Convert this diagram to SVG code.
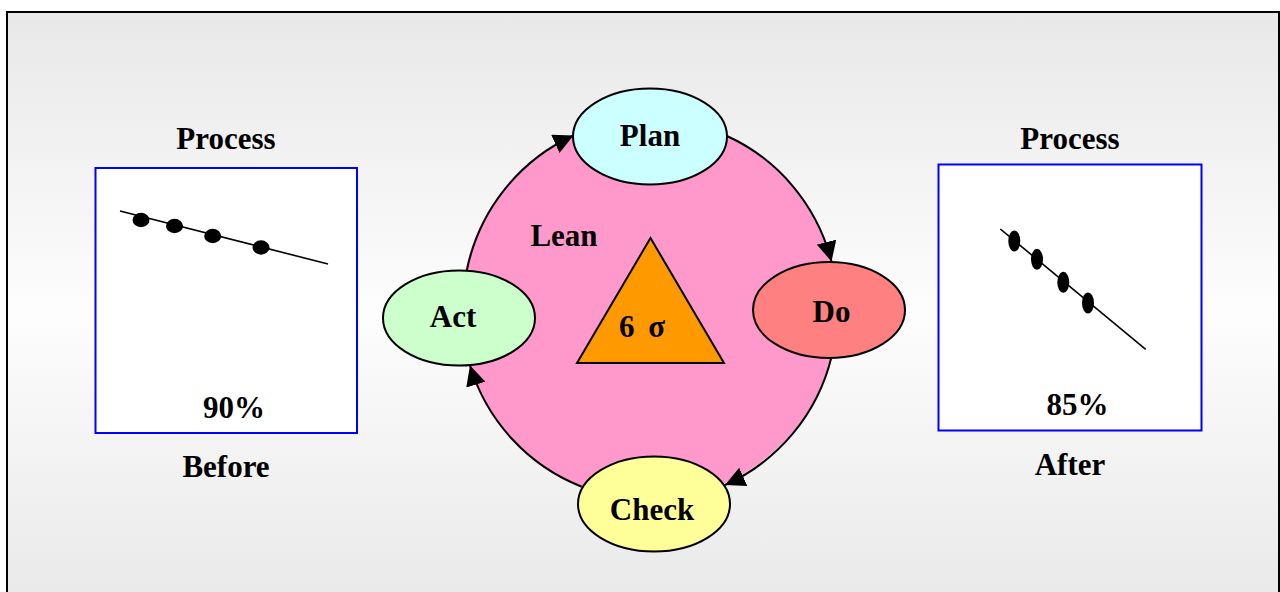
<svg xmlns="http://www.w3.org/2000/svg" width="1280" height="592" viewBox="0 0 1280 592">
<style>
.t{font-family:"Liberation Serif","Times New Roman",serif;font-weight:bold;font-size:31px;fill:#000;text-anchor:middle}
.node{stroke:#000;stroke-width:2}
.box{fill:#fff;stroke:#0000ff;stroke-width:2}
.conn{fill:none;stroke:#000;stroke-width:2}
.plot{stroke:#000;stroke-width:1.6;fill:none}
.dot{fill:#000}
</style>
<defs>
<linearGradient id="bg" x1="0" y1="0" x2="0" y2="1">
<stop offset="0" stop-color="#e8e8e8"/>
<stop offset="0.5" stop-color="#fdfdfd"/>
<stop offset="1" stop-color="#e8e8e8"/>
</linearGradient>
<marker id="arr" markerUnits="userSpaceOnUse" markerWidth="20" markerHeight="20" viewBox="0 0 20 20" refX="20" refY="10" orient="auto">
<path d="M0,0 L20,10 L0,20 z" fill="#000"/>
</marker>
</defs>
<rect x="7" y="12" width="1272" height="600" fill="url(#bg)" stroke="#000" stroke-width="2"/>

<g id="before">
<text class="t" x="226" y="149">Process</text>
<rect class="box" x="95.5" y="168" width="261.5" height="265"/>
<line class="plot" x1="120" y1="211" x2="328" y2="264"/>
<ellipse class="dot" cx="141" cy="220" rx="8.5" ry="7.2"/>
<ellipse class="dot" cx="174.5" cy="226" rx="8.5" ry="7.2"/>
<ellipse class="dot" cx="212.7" cy="236" rx="8.5" ry="7.2"/>
<ellipse class="dot" cx="261" cy="247.5" rx="8.5" ry="7.2"/>
<text class="t" x="234" y="418">90%</text>
<text class="t" x="226" y="476.5">Before</text>
</g>

<g id="after">
<text class="t" x="1070" y="148.5">Process</text>
<rect class="box" x="938.5" y="164.5" width="263" height="266"/>
<line class="plot" x1="1000.3" y1="229" x2="1145.7" y2="349.3"/>
<ellipse class="dot" cx="1014.3" cy="241" rx="6" ry="10.5"/>
<ellipse class="dot" cx="1037" cy="259.3" rx="6" ry="10.5"/>
<ellipse class="dot" cx="1063.3" cy="282.3" rx="6" ry="10.5"/>
<ellipse class="dot" cx="1088" cy="303" rx="6" ry="10.5"/>
<text class="t" x="1077.5" y="415">85%</text>
<text class="t" x="1070" y="475">After</text>
</g>

<g id="lean">
<ellipse cx="649.5" cy="309" rx="188" ry="190" fill="#ff99cc"/>
<text class="t" x="564" y="246">Lean</text>
</g>

<g id="sixsigma">
<polygon points="650.5,238 577,363 724,363" fill="#ff9900" stroke="#000" stroke-width="2"/>
<text class="t" x="619" y="337" style="text-anchor:start;word-spacing:6px">6 σ</text>
</g>

<g id="connectors">
<path class="conn" d="M466.9,270 A188,190 0 0 1 573.5,135.5" marker-end="url(#arr)"/>
<path class="conn" d="M727,136 A188,190 0 0 1 831.5,261.5" marker-end="url(#arr)"/>
<path class="conn" d="M831.5,357 A188,190 0 0 1 725,485" marker-end="url(#arr)"/>
<path class="conn" d="M581.7,486.7 A188,190 0 0 1 470,365.5" marker-end="url(#arr)"/>
</g>

<g id="plan">
<ellipse class="node" cx="650" cy="136.5" rx="77" ry="48" fill="#ccffff"/>
<text class="t" x="650" y="146">Plan</text>
</g>
<g id="do">
<ellipse class="node" cx="829" cy="310" rx="76" ry="48" fill="#ff8080"/>
<text class="t" x="831.5" y="322">Do</text>
</g>
<g id="check">
<ellipse class="node" cx="654" cy="504" rx="76" ry="47.5" fill="#ffff99"/>
<text class="t" x="652" y="520">Check</text>
</g>
<g id="act">
<ellipse class="node" cx="459" cy="318" rx="76" ry="47.5" fill="#ccffcc"/>
<text class="t" x="453" y="327">Act</text>
</g>
</svg>
